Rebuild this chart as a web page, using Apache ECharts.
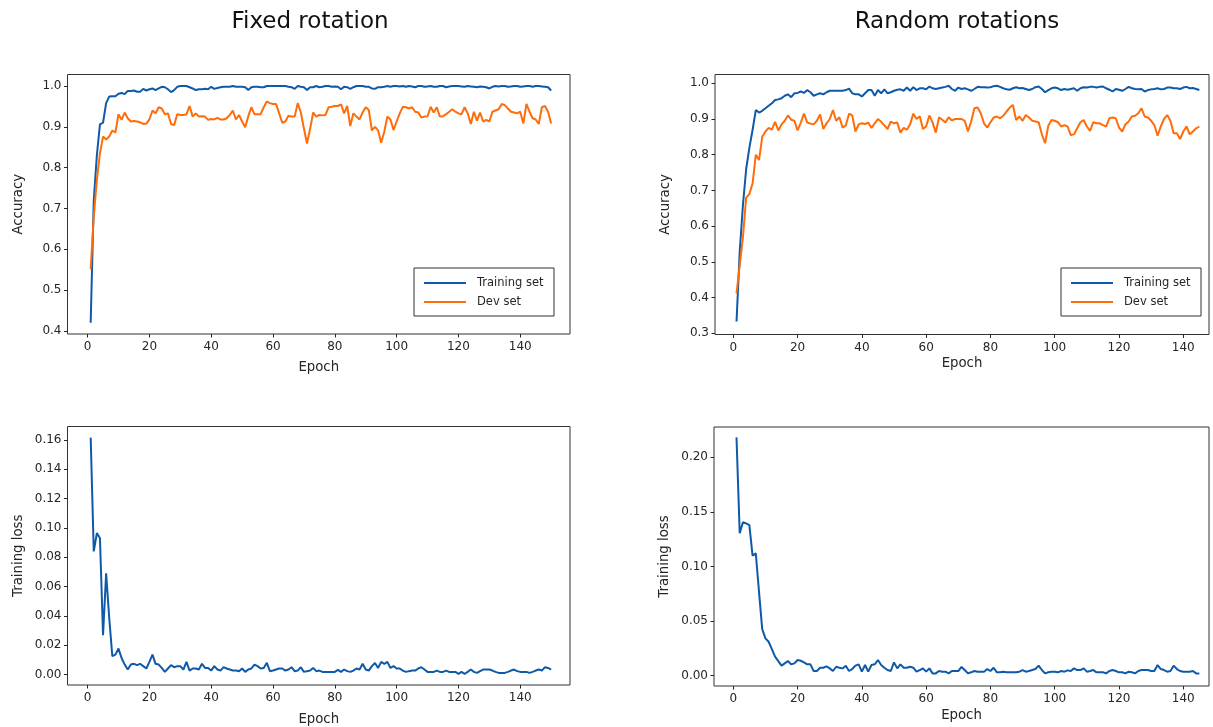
<!DOCTYPE html>
<html>
<head>
<meta charset="utf-8">
<title>Training curves</title>
<script src="https://cdn.jsdelivr.net/npm/echarts@6/dist/echarts.min.js"></script>
<style>
  html, body { margin: 0; padding: 0; background: #ffffff; }
  #chart { width: 1213px; height: 727px; }
</style>
</head>
<body>
<div id="chart"></div>
<script>
// Fixed rotation: accuracy per epoch (1..150)
const fixedTrainAcc = [
  0.42, 0.72, 0.83, 0.906, 0.91, 0.958, 0.974, 0.975, 0.975, 0.981,
  0.983, 0.980, 0.988, 0.988, 0.989, 0.986, 0.986, 0.993, 0.989, 0.992,
  0.994, 0.990, 0.994, 0.998, 0.997, 0.992, 0.985, 0.990, 0.998, 1.0,
  1.0, 1.0, 0.997, 0.994, 0.990, 0.992, 0.992, 0.993, 0.992, 0.998,
  0.993, 0.995, 0.997, 0.998, 0.998, 0.998, 1.0, 0.998, 0.998, 0.998,
  0.997, 0.990, 0.997, 0.998, 0.998, 0.997, 0.997, 1.0, 1.0, 1.0,
  1.0, 1.0, 1.0, 1.0, 0.998, 0.997, 0.993, 1.0, 0.998, 0.997,
  0.990, 0.997, 0.997, 1.0, 0.997, 0.998, 1.0, 1.0, 0.998, 0.999,
  0.998, 0.992, 0.998, 0.997, 0.993, 0.997, 1.0, 1.0, 1.0, 0.998,
  0.998, 0.994, 0.993, 0.997, 0.997, 0.998, 1.0, 0.998, 1.0, 1.0,
  0.999, 1.0, 0.998, 1.0, 0.999, 0.997, 1.0, 1.0, 0.998, 0.999,
  1.0, 0.998, 0.998, 1.0, 1.0, 0.997, 0.999, 1.0, 1.0, 1.0,
  0.999, 0.998, 1.0, 0.999, 0.998, 0.997, 0.999, 0.998, 0.997, 0.994,
  0.998, 1.0, 0.999, 1.0, 1.0, 0.998, 0.999, 1.0, 1.0, 0.998,
  0.999, 1.0, 1.0, 0.998, 1.0, 1.0, 0.999, 0.998, 0.997, 0.989
];
const fixedDevAcc = [
  0.551, 0.680, 0.770, 0.835, 0.876, 0.869, 0.876, 0.891, 0.886, 0.931,
  0.917, 0.935, 0.921, 0.913, 0.914, 0.913, 0.911, 0.907, 0.908, 0.918,
  0.940, 0.933, 0.948, 0.945, 0.931, 0.933, 0.907, 0.904, 0.931, 0.929,
  0.929, 0.931, 0.951, 0.925, 0.933, 0.925, 0.926, 0.925, 0.917, 0.919,
  0.918, 0.922, 0.918, 0.918, 0.921, 0.929, 0.940, 0.918, 0.929, 0.913,
  0.899, 0.926, 0.948, 0.931, 0.931, 0.931, 0.948, 0.962, 0.958, 0.956,
  0.956, 0.933, 0.910, 0.913, 0.927, 0.925, 0.925, 0.958, 0.935, 0.896,
  0.859, 0.895, 0.935, 0.925, 0.929, 0.928, 0.929, 0.948, 0.949, 0.951,
  0.951, 0.955, 0.933, 0.951, 0.902, 0.933, 0.925, 0.918, 0.935, 0.948,
  0.941, 0.891, 0.900, 0.891, 0.861, 0.888, 0.925, 0.918, 0.892, 0.913,
  0.933, 0.949, 0.948, 0.945, 0.948, 0.937, 0.935, 0.923, 0.925, 0.926,
  0.949, 0.935, 0.948, 0.925, 0.926, 0.931, 0.937, 0.943, 0.937, 0.933,
  0.931, 0.948, 0.933, 0.907, 0.937, 0.915, 0.935, 0.913, 0.917, 0.913,
  0.937, 0.940, 0.943, 0.956, 0.953, 0.945, 0.937, 0.935, 0.933, 0.937,
  0.908, 0.956, 0.937, 0.921, 0.918, 0.907, 0.948, 0.951, 0.937, 0.908
];
// Fixed rotation: training loss per epoch (1..150)
const fixedLoss = [
  0.1616, 0.0840, 0.0965, 0.0930, 0.0268, 0.0690, 0.0386, 0.0125, 0.0136, 0.0177,
  0.0113, 0.0068, 0.0034, 0.0068, 0.0073, 0.0064, 0.0073, 0.0057, 0.0041, 0.0086,
  0.0136, 0.0073, 0.0068, 0.0045, 0.0018, 0.0041, 0.0064, 0.0050, 0.0057, 0.0057,
  0.0034, 0.0086, 0.0027, 0.0041, 0.0041, 0.0034, 0.0073, 0.0045, 0.0045, 0.0027,
  0.0057, 0.0034, 0.0027, 0.0050, 0.0041, 0.0034, 0.0027, 0.0027, 0.0023, 0.0041,
  0.0018, 0.0034, 0.0041, 0.0068, 0.0057, 0.0041, 0.0045, 0.0080, 0.0023, 0.0027,
  0.0034, 0.0041, 0.0041, 0.0027, 0.0034, 0.0050, 0.0023, 0.0027, 0.0050, 0.0018,
  0.0023, 0.0027, 0.0045, 0.0023, 0.0027, 0.0018, 0.0018, 0.0018, 0.0018, 0.0018,
  0.0032, 0.0018, 0.0034, 0.0023, 0.0018, 0.0027, 0.0041, 0.0034, 0.0073, 0.0034,
  0.0027, 0.0057, 0.0079, 0.0045, 0.0086, 0.0073, 0.0086, 0.0045, 0.0057, 0.0041,
  0.0041, 0.0027, 0.0018, 0.0023, 0.0027, 0.0027, 0.0041, 0.0050, 0.0034, 0.0018,
  0.0018, 0.0018, 0.0027, 0.0018, 0.0018, 0.0027, 0.0018, 0.0018, 0.0018, 0.0005,
  0.0018, 0.0005, 0.0018, 0.0034, 0.0018, 0.0011, 0.0023, 0.0034, 0.0034, 0.0034,
  0.0027, 0.0018, 0.0011, 0.0011, 0.0011, 0.0018, 0.0027, 0.0034, 0.0023, 0.0018,
  0.0018, 0.0018, 0.0011, 0.0018, 0.0027, 0.0034, 0.0027, 0.0050, 0.0045, 0.0034
];

// Random rotations: accuracy per epoch (1..145)
const randomTrainAcc = [
  0.333, 0.53, 0.66, 0.76, 0.82, 0.87, 0.925, 0.918, 0.923, 0.930,
  0.937, 0.944, 0.953, 0.955, 0.958, 0.965, 0.969, 0.961, 0.972, 0.973,
  0.977, 0.973, 0.981, 0.975, 0.965, 0.969, 0.972, 0.969, 0.975, 0.979,
  0.979, 0.979, 0.979, 0.979, 0.981, 0.985, 0.972, 0.969, 0.969, 0.963,
  0.972, 0.981, 0.981, 0.965, 0.981, 0.972, 0.983, 0.972, 0.975, 0.979,
  0.982, 0.983, 0.979, 0.988, 0.979, 0.989, 0.981, 0.986, 0.986, 0.983,
  0.991, 0.986, 0.984, 0.986, 0.988, 0.990, 0.993, 0.984, 0.979, 0.988,
  0.984, 0.986, 0.983, 0.979, 0.984, 0.990, 0.989, 0.989, 0.988, 0.989,
  0.992, 0.993, 0.990, 0.986, 0.983, 0.982, 0.986, 0.989, 0.986, 0.987,
  0.984, 0.981, 0.984, 0.989, 0.991, 0.984, 0.975, 0.981, 0.986, 0.988,
  0.986, 0.981, 0.984, 0.982, 0.984, 0.986, 0.979, 0.986, 0.989, 0.988,
  0.990, 0.990, 0.988, 0.990, 0.991, 0.986, 0.982, 0.977, 0.984, 0.982,
  0.979, 0.984, 0.990, 0.986, 0.984, 0.983, 0.984, 0.977, 0.981, 0.983,
  0.984, 0.986, 0.983, 0.984, 0.988, 0.988, 0.986, 0.986, 0.984, 0.988,
  0.990, 0.986, 0.987, 0.984, 0.981
];
const randomDevAcc = [
  0.412, 0.49, 0.57, 0.68, 0.69, 0.72, 0.80, 0.785, 0.85, 0.865,
  0.875, 0.87, 0.892, 0.868, 0.885, 0.895, 0.91, 0.898, 0.895, 0.868,
  0.89, 0.915, 0.89, 0.887, 0.885, 0.895, 0.913, 0.872, 0.888, 0.90,
  0.925, 0.895, 0.905, 0.876, 0.882, 0.915, 0.91, 0.865, 0.885, 0.888,
  0.886, 0.89, 0.875, 0.888, 0.90, 0.892, 0.882, 0.872, 0.893, 0.888,
  0.89, 0.862, 0.875, 0.87, 0.885, 0.915, 0.90, 0.908, 0.872, 0.88,
  0.91, 0.89, 0.862, 0.905, 0.898, 0.89, 0.905, 0.896, 0.90, 0.90,
  0.90, 0.895, 0.865, 0.893, 0.930, 0.932, 0.916, 0.888, 0.876, 0.891,
  0.904, 0.907, 0.902, 0.909, 0.921, 0.932, 0.939, 0.897, 0.907, 0.895,
  0.911, 0.904, 0.895, 0.893, 0.891, 0.857, 0.832, 0.881, 0.897, 0.895,
  0.891, 0.879, 0.883, 0.879, 0.855, 0.857, 0.874, 0.891, 0.897, 0.879,
  0.867, 0.891, 0.888, 0.888, 0.883, 0.879, 0.902, 0.904, 0.902, 0.876,
  0.865, 0.885, 0.893, 0.907, 0.909, 0.916, 0.930, 0.907, 0.904, 0.895,
  0.883, 0.853, 0.879, 0.900, 0.911, 0.895, 0.860, 0.860, 0.844, 0.865,
  0.879, 0.857, 0.865, 0.874, 0.879
];
// Random rotations: training loss per epoch (1..145)
const randomLoss = [
  0.2183, 0.1304, 0.1405, 0.1395, 0.1380, 0.1100, 0.1120, 0.0770, 0.0427, 0.0342,
  0.0311, 0.0244, 0.0174, 0.0134, 0.0092, 0.0113, 0.0134, 0.0104, 0.0113, 0.0144,
  0.0137, 0.0122, 0.0104, 0.0104, 0.0043, 0.0043, 0.0073, 0.0073, 0.0085, 0.0067,
  0.0043, 0.0082, 0.0073, 0.0067, 0.0092, 0.0043, 0.0061, 0.0092, 0.0104, 0.0037,
  0.0098, 0.0037, 0.0098, 0.0104, 0.0144, 0.0098, 0.0073, 0.0052, 0.0043, 0.0122,
  0.0067, 0.0104, 0.0073, 0.0073, 0.0082, 0.0073, 0.0037, 0.0052, 0.0067, 0.0037,
  0.0067, 0.0021, 0.0021, 0.0043, 0.0037, 0.0037, 0.0021, 0.0043, 0.0043, 0.0043,
  0.0080, 0.0052, 0.0021, 0.0031, 0.0043, 0.0037, 0.0037, 0.0037, 0.0061, 0.0043,
  0.0073, 0.0031, 0.0031, 0.0037, 0.0031, 0.0031, 0.0031, 0.0031, 0.0037, 0.0052,
  0.0037, 0.0043, 0.0052, 0.0061, 0.0092, 0.0052, 0.0021, 0.0031, 0.0037, 0.0037,
  0.0031, 0.0043, 0.0037, 0.0049, 0.0043, 0.0067, 0.0052, 0.0052, 0.0067, 0.0037,
  0.0043, 0.0052, 0.0031, 0.0031, 0.0031, 0.0021, 0.0043, 0.0052, 0.0043, 0.0031,
  0.0031, 0.0021, 0.0037, 0.0031, 0.0021, 0.0043, 0.0052, 0.0052, 0.0052, 0.0043,
  0.0043, 0.0098, 0.0061, 0.0052, 0.0037, 0.0043, 0.0092, 0.0061, 0.0043, 0.0037,
  0.0037, 0.0037, 0.0043, 0.0021, 0.0021
];

// Tick labels
const epochTicks = [0, 20, 40, 60, 80, 100, 120, 140];
const fixedAccTicks = [0.4, 0.5, 0.6, 0.7, 0.8, 0.9, 1.0];
const randomAccTicks = [0.3, 0.4, 0.5, 0.6, 0.7, 0.8, 0.9, 1.0];
const fixedLossTicks = [0, 0.02, 0.04, 0.06, 0.08, 0.10, 0.12, 0.14, 0.16];
const randomLossTicks = [0, 0.05, 0.10, 0.15, 0.20];

const BLUE = '#0f5aa8';
const ORANGE = '#ff6d0a';
const INK = '#262626';
const FONT = 'DejaVu Sans';

// pair each value with its epoch number (epochs start at 1)
const withEpochs = arr => arr.map((v, i) => [i + 1, v]);

function xAxisFor(gridIndex, min, max, nameGap) {
  return {
    type: 'value', gridIndex, min, max, position: 'bottom',
    name: 'Epoch', nameLocation: 'middle', nameGap,
    nameTextStyle: { fontFamily: FONT, fontSize: 13.3, color: INK },
    axisLine: { show: false, onZero: false },
    splitLine: { show: false },
    axisTick: { show: true, length: 3.5, customValues: epochTicks, lineStyle: { color: INK, width: 1 } },
    axisLabel: { customValues: epochTicks, margin: 7, fontFamily: FONT, fontSize: 12, color: INK }
  };
}
function yAxisFor(gridIndex, min, max, ticks, digits, name, nameGap) {
  return {
    type: 'value', gridIndex, min, max, position: 'left',
    name, nameLocation: 'middle', nameGap,
    nameTextStyle: { fontFamily: FONT, fontSize: 13.3, color: INK },
    axisLine: { show: false, onZero: false },
    splitLine: { show: false },
    axisTick: { show: true, length: 3.5, customValues: ticks, lineStyle: { color: INK, width: 1 } },
    axisLabel: {
      customValues: ticks, margin: 6, fontFamily: FONT, fontSize: 12, color: INK,
      formatter: v => Number(v).toFixed(digits)
    }
  };
}
function lineSeries(name, data, color, xi, yi) {
  return {
    name, type: 'line', data: withEpochs(data),
    xAxisIndex: xi, yAxisIndex: yi,
    showSymbol: false, symbol: 'none',
    lineStyle: { color, width: 2 },
    itemStyle: { color },
    animation: false
  };
}
function legendAt(left, top) {
  return {
    orient: 'vertical', left, top,
    data: ['Training set', 'Dev set'],
    icon: 'rect', itemWidth: 42, itemHeight: 2, itemGap: 5,
    padding: [8, 9, 7, 10],
    borderColor: '#333', borderWidth: 1, borderRadius: 0,
    backgroundColor: '#ffffff',
    selectedMode: false,
    textStyle: { fontFamily: FONT, fontSize: 11.5, lineHeight: 14, color: INK, padding: [0, 0, 0, 6], width: 68 }
  };
}
const frame = { show: true, borderColor: '#333', borderWidth: 1, backgroundColor: 'transparent' };

const option = {
  animation: false,
  backgroundColor: '#ffffff',
  title: [
    { text: 'Fixed rotation', left: 310, top: 11, textAlign: 'center', padding: 0,
      textStyle: { fontFamily: FONT, fontSize: 23, fontWeight: 'normal', color: '#111' } },
    { text: 'Random rotations', left: 957, top: 11, textAlign: 'center', padding: 0,
      textStyle: { fontFamily: FONT, fontSize: 23, fontWeight: 'normal', color: '#111' } }
  ],
  legend: [legendAt(414, 268), legendAt(1061, 268)],
  grid: [
    Object.assign({ left: 67.5, top: 74.5, width: 502.5, height: 259.5 }, frame),
    Object.assign({ left: 715, top: 74.5, width: 494, height: 260 }, frame),
    Object.assign({ left: 67.5, top: 426.5, width: 502.5, height: 259 }, frame),
    Object.assign({ left: 714, top: 427, width: 495, height: 259 }, frame)
  ],
  xAxis: [
    xAxisFor(0, -6.5, 156.1, 27),
    xAxisFor(1, -5.7, 148.0, 23),
    xAxisFor(2, -6.5, 156.1, 28),
    xAxisFor(3, -6.0, 148.0, 23.5)
  ],
  yAxis: [
    yAxisFor(0, 0.3922, 1.0282, fixedAccTicks, 1, 'Accuracy', 42.5),
    yAxisFor(1, 0.2966, 1.0246, randomAccTicks, 1, 'Accuracy', 42.5),
    yAxisFor(2, -0.00715, 0.1692, fixedLossTicks, 2, 'Training loss', 42.5),
    yAxisFor(3, -0.00943, 0.2278, randomLossTicks, 2, 'Training loss', 42.5)
  ],
  series: [
    lineSeries('Training set', fixedTrainAcc, BLUE, 0, 0),
    lineSeries('Dev set', fixedDevAcc, ORANGE, 0, 0),
    lineSeries('Training set', randomTrainAcc, BLUE, 1, 1),
    lineSeries('Dev set', randomDevAcc, ORANGE, 1, 1),
    lineSeries('Training loss', fixedLoss, BLUE, 2, 2),
    lineSeries('Training loss', randomLoss, BLUE, 3, 3)
  ]
};

const chart = echarts.init(document.getElementById('chart'), null, { renderer: 'canvas' });
chart.setOption(option);
</script>
</body>
</html>
